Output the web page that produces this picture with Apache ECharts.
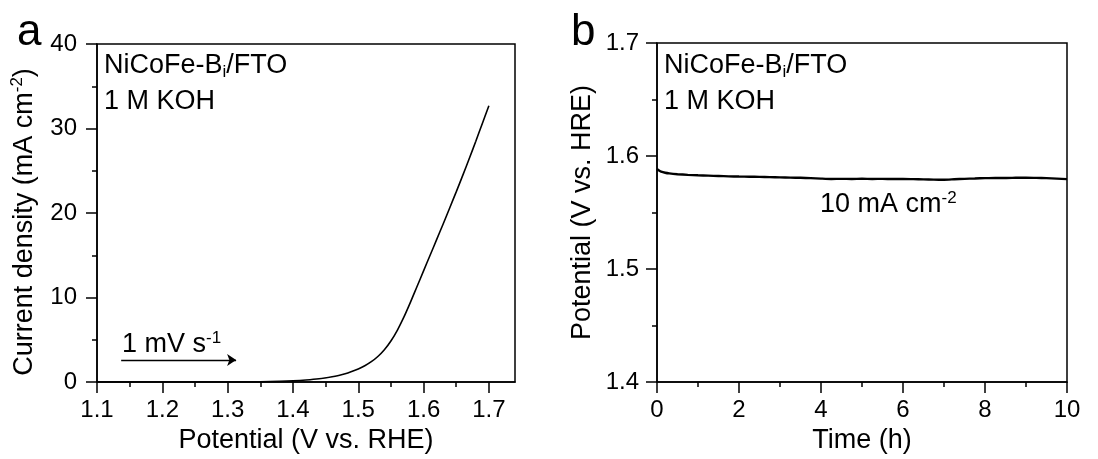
<!DOCTYPE html>
<html>
<head>
<meta charset="utf-8">
<script src="https://cdn.jsdelivr.net/npm/echarts@6/dist/echarts.min.js"></script>
<style>
html,body{margin:0;padding:0;background:#fff;}
#chart{width:1098px;height:459px;}
</style>
</head>
<body>
<div id="chart"></div>
<script>
// ---- Panel a: LSV curve ----
const potentialV = [1.10, 1.20, 1.30, 1.35, 1.38, 1.40, 1.42, 1.44, 1.46, 1.47, 1.48, 1.49, 1.50, 1.51, 1.52, 1.53, 1.54, 1.55, 1.56, 1.57, 1.58, 1.59, 1.60, 1.61, 1.62, 1.63, 1.64, 1.65, 1.66, 1.67, 1.68, 1.69, 1.70];
const currentJ   = [0, 0, 0, 0.02, 0.07, 0.13, 0.23, 0.38, 0.62, 0.78, 0.98, 1.25, 1.55, 1.92, 2.40, 3.02, 3.82, 4.85, 6.15, 7.70, 9.45, 11.30, 13.15, 15.0, 16.85, 18.7, 20.6, 22.5, 24.45, 26.45, 28.5, 30.6, 32.7];
const xTicksA = [1.1, 1.2, 1.3, 1.4, 1.5, 1.6, 1.7];
const xMinorA = [1.15, 1.25, 1.35, 1.45, 1.55, 1.65];
const arrowStart = [1.137, 2.6];
const arrowEnd = [1.313, 2.6];

// ---- Panel b: chronopotentiometry ----
const timeH = [0, 0.05, 0.1, 0.2, 0.3, 0.5, 0.75, 1, 1.25, 1.5, 1.75, 2, 2.25, 2.5, 2.75, 3, 3.25, 3.5, 3.75, 4, 4.25, 4.5, 4.75, 5, 5.25, 5.5, 5.75, 6, 6.25, 6.5, 6.75, 7, 7.25, 7.5, 7.75, 8, 8.25, 8.5, 8.75, 9, 9.25, 9.5, 9.75, 10];
const potentialT = [1.5885, 1.5872, 1.5862, 1.5852, 1.5846, 1.5839, 1.5833, 1.5829, 1.5826, 1.5823, 1.5820, 1.5818, 1.5817, 1.5815, 1.5813, 1.5811, 1.5809, 1.5807, 1.5804, 1.5800, 1.5797, 1.5798, 1.5797, 1.5799, 1.5797, 1.5798, 1.5796, 1.5797, 1.5795, 1.5793, 1.5791, 1.5790, 1.5794, 1.5798, 1.5801, 1.5804, 1.5806, 1.5805, 1.5807, 1.5808, 1.5806, 1.5804, 1.5800, 1.5795];

const FONT = "'Liberation Sans', Arial, Helvetica, sans-serif";
const black = '#000';

function pairs(xs, ys){ return xs.map((x,i)=>[x, ys[i]]); }

const chart = echarts.init(document.getElementById('chart'), null, {renderer:'canvas'});

const axisNameRich = {
  n: {fontSize: 27, fontFamily: FONT, color: black, lineHeight: 32},
  sup: {fontSize: 17, fontFamily: FONT, color: black, lineHeight: 32, verticalAlign: 'top', padding:[0,0,12,0]}
};
const annRich = {
  n: {fontSize: 27, fontFamily: FONT, fill: black, lineHeight: 30},
  sub: {fontSize: 17, fontFamily: FONT, fill: black, lineHeight: 30, verticalAlign: 'bottom', padding: [9,0,0,0]},
  sup: {fontSize: 17, fontFamily: FONT, fill: black, lineHeight: 30, verticalAlign: 'top', padding: [0,0,11,0]}
};

const option = {
  animation: false,
  backgroundColor: '#fff',
  textStyle: {fontFamily: FONT, color: black},
  grid: [
    {left: 97, right: 583, top: 44, bottom: 77, show: true, borderColor: black, borderWidth: 1.5, backgroundColor: 'transparent'},
    {left: 657, right: 31, top: 43, bottom: 77, show: true, borderColor: black, borderWidth: 1.5, backgroundColor: 'transparent'}
  ],
  xAxis: [
    {
      gridIndex: 0, type: 'value', min: 1.1, max: 1.74, interval: 0.1, position: 'bottom',
      name: 'Potential (V vs. RHE)', nameLocation: 'middle', nameGap: 43,
      nameTextStyle: {fontSize: 27, fontFamily: FONT, color: black},
      axisLine: {show: true, lineStyle: {color: black, width: 1.5}},
      axisTick: {show: true, length: 11, customValues: xTicksA, lineStyle: {color: black, width: 1.5}},
      axisLabel: {show: true, customValues: xTicksA, fontSize: 24, fontFamily: FONT, color: black, margin: 16, formatter: v => Number(v).toFixed(1)},
      splitLine: {show: false}
    },
    {
      gridIndex: 0, type: 'value', min: 1.1, max: 1.74, position: 'bottom',
      axisLine: {show: false},
      axisTick: {show: true, length: 5, customValues: xMinorA, lineStyle: {color: black, width: 1.5}},
      axisLabel: {show: false},
      splitLine: {show: false}
    },
    {
      gridIndex: 1, type: 'value', min: 0, max: 10, interval: 2, position: 'bottom',
      name: 'Time (h)', nameLocation: 'middle', nameGap: 43,
      nameTextStyle: {fontSize: 27, fontFamily: FONT, color: black},
      axisLine: {show: true, lineStyle: {color: black, width: 1.5}},
      axisTick: {show: true, length: 11, lineStyle: {color: black, width: 1.5}},
      minorTick: {show: true, splitNumber: 2, length: 5, lineStyle: {color: black, width: 1.5}},
      axisLabel: {fontSize: 24, fontFamily: FONT, color: black, margin: 16},
      splitLine: {show: false}
    }
  ],
  yAxis: [
    {
      gridIndex: 0, type: 'value', min: 0, max: 40, interval: 10,
      name: '{n|Current density (mA cm}{sup|-2}{n|)}', nameLocation: 'middle', nameGap: 56, nameRotate: 90,
      nameTextStyle: {rich: axisNameRich, padding: [0, 18, 0, 0]},
      axisLine: {show: true, lineStyle: {color: black, width: 1.5}},
      axisTick: {show: true, length: 11, lineStyle: {color: black, width: 1.5}},
      minorTick: {show: true, splitNumber: 2, length: 5, lineStyle: {color: black, width: 1.5}},
      axisLabel: {fontSize: 24, fontFamily: FONT, color: black, margin: 20},
      splitLine: {show: false}
    },
    {
      gridIndex: 1, type: 'value', min: 1.4, max: 1.7, interval: 0.1,
      name: 'Potential (V vs. HRE)', nameLocation: 'middle', nameGap: 61, nameRotate: 90,
      nameTextStyle: {fontSize: 27, fontFamily: FONT, color: black},
      axisLine: {show: true, lineStyle: {color: black, width: 1.5}},
      axisTick: {show: true, length: 11, lineStyle: {color: black, width: 1.5}},
      minorTick: {show: true, splitNumber: 2, length: 5, lineStyle: {color: black, width: 1.5}},
      axisLabel: {fontSize: 24, fontFamily: FONT, color: black, margin: 18, formatter: v => Number(v).toFixed(1)},
      splitLine: {show: false}
    }
  ],
  series: [
    {
      type: 'line', xAxisIndex: 0, yAxisIndex: 0, data: pairs(potentialV, currentJ),
      smooth: 0.3, showSymbol: false, symbol: 'none',
      lineStyle: {color: black, width: 1.6},
      markLine: {
        silent: true, symbol: ['none', 'arrow'], symbolSize: 9,
        label: {show: false},
        lineStyle: {color: black, width: 1.3, type: 'solid'},
        data: [[{coord: arrowStart}, {coord: arrowEnd}]]
      }
    },
    {
      type: 'line', xAxisIndex: 2, yAxisIndex: 1, data: pairs(timeH, potentialT),
      smooth: 0.2, showSymbol: false, symbol: 'none',
      lineStyle: {color: black, width: 2.4}
    }
  ],
  graphic: [
    {type: 'text', left: 17, top: 11, style: {text: 'a', font: '44px ' + FONT, fill: black}},
    {type: 'text', left: 571, top: 11, style: {text: 'b', font: '44px ' + FONT, fill: black}},
    {type: 'text', left: 104, top: 52, style: {text: '{n|NiCoFe-B}{sub|i}{n|/FTO}', rich: annRich}},
    {type: 'text', left: 104, top: 88, style: {text: '{n|1 M KOH}', rich: annRich}},
    {type: 'text', left: 664, top: 52, style: {text: '{n|NiCoFe-B}{sub|i}{n|/FTO}', rich: annRich}},
    {type: 'text', left: 664, top: 88, style: {text: '{n|1 M KOH}', rich: annRich}},
    {type: 'text', left: 122, top: 330, style: {text: '{n|1 mV s}{sup|-1}', rich: annRich}},
    {type: 'text', left: 820, top: 190, style: {text: '{n|10 mA cm}{sup|-2}', rich: annRich}}
  ]
};
chart.setOption(option);
</script>
</body>
</html>
